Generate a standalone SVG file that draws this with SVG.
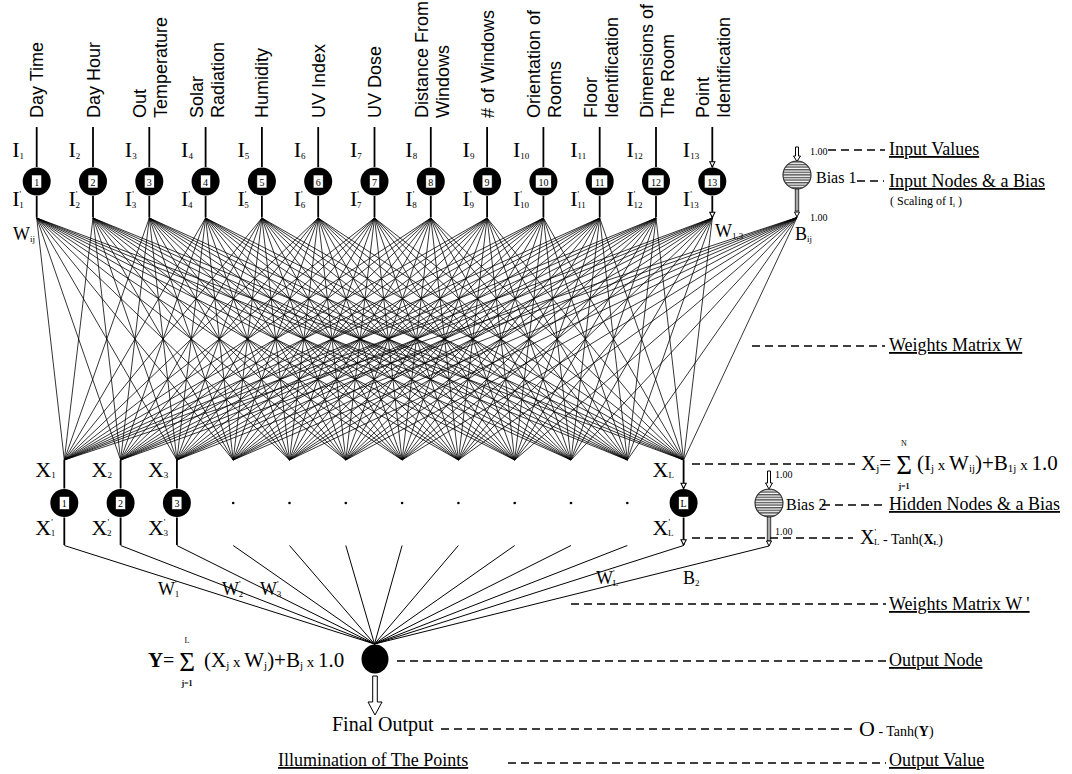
<svg xmlns="http://www.w3.org/2000/svg" width="1072" height="774" viewBox="0 0 1072 774">
<style>
.sans{font-family:"Liberation Sans",Arial,sans-serif;font-size:18px}
.serif{font-family:"Liberation Serif","Times New Roman",serif}
.lab{font-size:22px}
.xl{font-size:22px}
.w18{font-size:18px}
.sub{font-size:9px}
.num{font-family:"Liberation Serif","Times New Roman",serif;font-size:10px;text-anchor:middle}
.node{fill:#000}
.box{fill:#fff;stroke:#000;stroke-width:0.6}
.fan{fill:none;stroke:#000;stroke-width:0.8;stroke-linejoin:round}
.out{fill:none;stroke:#000;stroke-width:1;stroke-linejoin:round}
.conn{stroke:#000;stroke-width:1.8;fill:none}
.dash{stroke:#000;stroke-width:1.3;stroke-dasharray:8 5;fill:none}
.ul{text-decoration:underline}
.bias{fill:url(#stripe);stroke:#333;stroke-width:1.2}
.hol{fill:#fff;stroke:#000;stroke-width:1}
</style>
<defs>
<marker id="ah" viewBox="0 0 8 8" refX="7" refY="4" markerWidth="7" markerHeight="7" orient="auto" markerUnits="userSpaceOnUse">
<path d="M1,1 L7,4 L1,7 z" fill="#fff" stroke="#000" stroke-width="1.2"/>
</marker>
<pattern id="stripe" width="4" height="2.6" patternUnits="userSpaceOnUse">
<rect width="4" height="2.6" fill="#fff"/><rect width="4" height="1.4" fill="#555"/>
</pattern>
</defs>
<rect width="1072" height="774" fill="#fff"/>

<g id="connectors">
<path class="fan" d="M64.3 460L36.7 218 120.6 460M176.9 460L36.7 218 233.2 460M289.5 460L36.7 218 345.8 460M402.1 460L36.7 218 458.4 460M514.7 460L36.7 218 571 460M627.3 460L36.7 218 683.6 460"/>
<path class="fan" d="M64.3 460L93 218 120.6 460M176.9 460L93 218 233.2 460M289.5 460L93 218 345.8 460M402.1 460L93 218 458.4 460M514.7 460L93 218 571 460M627.3 460L93 218 683.6 460"/>
<path class="fan" d="M64.3 460L149.3 218 120.6 460M176.9 460L149.3 218 233.2 460M289.5 460L149.3 218 345.8 460M402.1 460L149.3 218 458.4 460M514.7 460L149.3 218 571 460M627.3 460L149.3 218 683.6 460"/>
<path class="fan" d="M64.3 460L205.6 218 120.6 460M176.9 460L205.6 218 233.2 460M289.5 460L205.6 218 345.8 460M402.1 460L205.6 218 458.4 460M514.7 460L205.6 218 571 460M627.3 460L205.6 218 683.6 460"/>
<path class="fan" d="M64.3 460L261.9 218 120.6 460M176.9 460L261.9 218 233.2 460M289.5 460L261.9 218 345.8 460M402.1 460L261.9 218 458.4 460M514.7 460L261.9 218 571 460M627.3 460L261.9 218 683.6 460"/>
<path class="fan" d="M64.3 460L318.2 218 120.6 460M176.9 460L318.2 218 233.2 460M289.5 460L318.2 218 345.8 460M402.1 460L318.2 218 458.4 460M514.7 460L318.2 218 571 460M627.3 460L318.2 218 683.6 460"/>
<path class="fan" d="M64.3 460L374.5 218 120.6 460M176.9 460L374.5 218 233.2 460M289.5 460L374.5 218 345.8 460M402.1 460L374.5 218 458.4 460M514.7 460L374.5 218 571 460M627.3 460L374.5 218 683.6 460"/>
<path class="fan" d="M64.3 460L430.8 218 120.6 460M176.9 460L430.8 218 233.2 460M289.5 460L430.8 218 345.8 460M402.1 460L430.8 218 458.4 460M514.7 460L430.8 218 571 460M627.3 460L430.8 218 683.6 460"/>
<path class="fan" d="M64.3 460L487.1 218 120.6 460M176.9 460L487.1 218 233.2 460M289.5 460L487.1 218 345.8 460M402.1 460L487.1 218 458.4 460M514.7 460L487.1 218 571 460M627.3 460L487.1 218 683.6 460"/>
<path class="fan" d="M64.3 460L543.4 218 120.6 460M176.9 460L543.4 218 233.2 460M289.5 460L543.4 218 345.8 460M402.1 460L543.4 218 458.4 460M514.7 460L543.4 218 571 460M627.3 460L543.4 218 683.6 460"/>
<path class="fan" d="M64.3 460L599.7 218 120.6 460M176.9 460L599.7 218 233.2 460M289.5 460L599.7 218 345.8 460M402.1 460L599.7 218 458.4 460M514.7 460L599.7 218 571 460M627.3 460L599.7 218 683.6 460"/>
<path class="fan" d="M64.3 460L656 218 120.6 460M176.9 460L656 218 233.2 460M289.5 460L656 218 345.8 460M402.1 460L656 218 458.4 460M514.7 460L656 218 571 460M627.3 460L656 218 683.6 460"/>
<path class="fan" d="M64.3 460L712.3 218 120.6 460M176.9 460L712.3 218 233.2 460M289.5 460L712.3 218 345.8 460M402.1 460L712.3 218 458.4 460M514.7 460L712.3 218 571 460M627.3 460L712.3 218 683.6 460"/>
<path class="fan" d="M64.3 460L797 217.5 120.6 460M176.9 460L797 217.5 233.2 460M289.5 460L797 217.5 345.8 460M402.1 460L797 217.5 458.4 460M514.7 460L797 217.5 571 460M627.3 460L797 217.5 683.6 460"/>
<path class="out" d="M64.3 545.5L374.5 644 120.6 545.5M176.9 545.5L374.5 644 233.2 545.5M289.5 545.5L374.5 644 345.8 545.5M402.1 545.5L374.5 644 458.4 545.5M514.7 545.5L374.5 644 571 545.5M627.3 545.5L374.5 644 683.6 545.5M769 546L374.5 644"/>
<g class="conn" marker-end="url(#ah)">
<path d="M36.7 127V167M93 127V167M149.3 127V167M205.6 127V167M261.9 127V167M318.2 127V167M374.5 127V167M430.8 127V167M487.1 127V167M543.4 127V167M599.7 127V167M656 127V167M712.3 127V167"/>
<path d="M36.7 196V217.5M93 196V217.5M149.3 196V217.5M205.6 196V217.5M261.9 196V217.5M318.2 196V217.5M374.5 196V217.5M430.8 196V217.5M487.1 196V217.5M543.4 196V217.5M599.7 196V217.5M656 196V217.5M712.3 196V217.5"/>
<path d="M64.3 460V488.5M120.6 460V488.5M176.9 460V488.5M683.6 460V488.5"/>
<path d="M64.3 517.5V545M120.6 517.5V545M176.9 517.5V545M683.6 517.5V545"/>
</g>
</g>

<g id="input-nodes">
<g id="in1"><circle class="node" cx="36.7" cy="181.5" r="14"/><rect class="box" x="31.7" y="175" width="10" height="13"/><text class="num" x="36.7" y="185.5">1</text>
<text class="sans" transform="translate(43.2,118) rotate(-90)">Day Time</text>
<text class="serif lab" x="12.2" y="157">I<tspan class="sub" dy="2">1</tspan></text>
<text class="serif lab" x="12.2" y="206">I<tspan class="sub" dy="-9">'</tspan><tspan class="sub" dx="-2" dy="11">1</tspan></text></g>
<g id="in2"><circle class="node" cx="93" cy="181.5" r="14"/><rect class="box" x="88" y="175" width="10" height="13"/><text class="num" x="93" y="185.5">2</text>
<text class="sans" transform="translate(99.5,118) rotate(-90)">Day Hour</text>
<text class="serif lab" x="68.5" y="157">I<tspan class="sub" dy="2">2</tspan></text>
<text class="serif lab" x="68.5" y="206">I<tspan class="sub" dy="-9">'</tspan><tspan class="sub" dx="-2" dy="11">2</tspan></text></g>
<g id="in3"><circle class="node" cx="149.3" cy="181.5" r="14"/><rect class="box" x="144.3" y="175" width="10" height="13"/><text class="num" x="149.3" y="185.5">3</text>
<text class="sans" transform="translate(146.3,118) rotate(-90)">Out</text>
<text class="sans" transform="translate(167.3,118) rotate(-90)">Temperature</text>
<text class="serif lab" x="124.8" y="157">I<tspan class="sub" dy="2">3</tspan></text>
<text class="serif lab" x="124.8" y="206">I<tspan class="sub" dy="-9">'</tspan><tspan class="sub" dx="-2" dy="11">3</tspan></text></g>
<g id="in4"><circle class="node" cx="205.6" cy="181.5" r="14"/><rect class="box" x="200.6" y="175" width="10" height="13"/><text class="num" x="205.6" y="185.5">4</text>
<text class="sans" transform="translate(202.6,118) rotate(-90)">Solar</text>
<text class="sans" transform="translate(223.6,118) rotate(-90)">Radiation</text>
<text class="serif lab" x="181.1" y="157">I<tspan class="sub" dy="2">4</tspan></text>
<text class="serif lab" x="181.1" y="206">I<tspan class="sub" dy="-9">'</tspan><tspan class="sub" dx="-2" dy="11">4</tspan></text></g>
<g id="in5"><circle class="node" cx="261.9" cy="181.5" r="14"/><rect class="box" x="256.9" y="175" width="10" height="13"/><text class="num" x="261.9" y="185.5">5</text>
<text class="sans" transform="translate(268.4,118) rotate(-90)">Humidity</text>
<text class="serif lab" x="237.4" y="157">I<tspan class="sub" dy="2">5</tspan></text>
<text class="serif lab" x="237.4" y="206">I<tspan class="sub" dy="-9">'</tspan><tspan class="sub" dx="-2" dy="11">5</tspan></text></g>
<g id="in6"><circle class="node" cx="318.2" cy="181.5" r="14"/><rect class="box" x="313.2" y="175" width="10" height="13"/><text class="num" x="318.2" y="185.5">6</text>
<text class="sans" transform="translate(324.7,118) rotate(-90)">UV Index</text>
<text class="serif lab" x="293.7" y="157">I<tspan class="sub" dy="2">6</tspan></text>
<text class="serif lab" x="293.7" y="206">I<tspan class="sub" dy="-9">'</tspan><tspan class="sub" dx="-2" dy="11">6</tspan></text></g>
<g id="in7"><circle class="node" cx="374.5" cy="181.5" r="14"/><rect class="box" x="369.5" y="175" width="10" height="13"/><text class="num" x="374.5" y="185.5">7</text>
<text class="sans" transform="translate(381,118) rotate(-90)">UV Dose</text>
<text class="serif lab" x="350" y="157">I<tspan class="sub" dy="2">7</tspan></text>
<text class="serif lab" x="350" y="206">I<tspan class="sub" dy="-9">'</tspan><tspan class="sub" dx="-2" dy="11">7</tspan></text></g>
<g id="in8"><circle class="node" cx="430.8" cy="181.5" r="14"/><rect class="box" x="425.8" y="175" width="10" height="13"/><text class="num" x="430.8" y="185.5">8</text>
<text class="sans" transform="translate(427.8,118) rotate(-90)">Distance From</text>
<text class="sans" transform="translate(448.8,118) rotate(-90)">Windows</text>
<text class="serif lab" x="405.3" y="157">I<tspan class="sub" dy="2">8</tspan></text>
<text class="serif lab" x="405.3" y="206">I<tspan class="sub" dy="-9">'</tspan><tspan class="sub" dx="-2" dy="11">8</tspan></text></g>
<g id="in9"><circle class="node" cx="487.1" cy="181.5" r="14"/><rect class="box" x="482.1" y="175" width="10" height="13"/><text class="num" x="487.1" y="185.5">9</text>
<text class="sans" transform="translate(493.6,118) rotate(-90)"># of Windows</text>
<text class="serif lab" x="462.6" y="157">I<tspan class="sub" dy="2">9</tspan></text>
<text class="serif lab" x="462.6" y="206">I<tspan class="sub" dy="-9">'</tspan><tspan class="sub" dx="-2" dy="11">9</tspan></text></g>
<g id="in10"><circle class="node" cx="543.4" cy="181.5" r="14"/><rect class="box" x="535.4" y="175" width="16" height="13"/><text class="num" x="543.4" y="185.5">10</text>
<text class="sans" transform="translate(540.4,118) rotate(-90)">Orientation of</text>
<text class="sans" transform="translate(561.4,118) rotate(-90)">Rooms</text>
<text class="serif lab" x="513" y="157">I<tspan class="sub" dy="2">10</tspan></text>
<text class="serif lab" x="513" y="206">I<tspan class="sub" dy="-9">'</tspan><tspan class="sub" dx="-2" dy="11">10</tspan></text></g>
<g id="in11"><circle class="node" cx="599.7" cy="181.5" r="14"/><rect class="box" x="591.7" y="175" width="16" height="13"/><text class="num" x="599.7" y="185.5">11</text>
<text class="sans" transform="translate(596.7,118) rotate(-90)">Floor</text>
<text class="sans" transform="translate(617.7,118) rotate(-90)">Identification</text>
<text class="serif lab" x="570.2" y="157">I<tspan class="sub" dy="2">11</tspan></text>
<text class="serif lab" x="570.2" y="206">I<tspan class="sub" dy="-9">'</tspan><tspan class="sub" dx="-2" dy="11">11</tspan></text></g>
<g id="in12"><circle class="node" cx="656" cy="181.5" r="14"/><rect class="box" x="648" y="175" width="16" height="13"/><text class="num" x="656" y="185.5">12</text>
<text class="sans" transform="translate(653,118) rotate(-90)">Dimensions of</text>
<text class="sans" transform="translate(674,118) rotate(-90)">The Room</text>
<text class="serif lab" x="626.5" y="157">I<tspan class="sub" dy="2">12</tspan></text>
<text class="serif lab" x="626.5" y="206">I<tspan class="sub" dy="-9">'</tspan><tspan class="sub" dx="-2" dy="11">12</tspan></text></g>
<g id="in13"><circle class="node" cx="712.3" cy="181.5" r="14"/><rect class="box" x="704.3" y="175" width="16" height="13"/><text class="num" x="712.3" y="185.5">13</text>
<text class="sans" transform="translate(709.3,118) rotate(-90)">Point</text>
<text class="sans" transform="translate(730.3,118) rotate(-90)">Identification</text>
<text class="serif lab" x="682.8" y="157">I<tspan class="sub" dy="2">13</tspan></text>
<text class="serif lab" x="682.8" y="206">I<tspan class="sub" dy="-9">'</tspan><tspan class="sub" dx="-2" dy="11">13</tspan></text></g>
</g>

<g id="bias1">
<polygon class="hol" points="795.5,147 798.5,147 798.5,156 800.5,156 797,161.5 793.5,156 795.5,156"/>
<circle class="bias" cx="797" cy="175" r="14"/>
<rect x="795.2" y="189" width="3.6" height="22" fill="#aaa" stroke="#000" stroke-width="0.7"/>
<path d="M794.5 212L799.5 212L797 217z" fill="#fff" stroke="#000" stroke-width="1"/>
<text class="serif" x="810" y="155" font-size="10">1.00</text>
<text class="serif" x="816" y="183" font-size="16">Bias 1</text>
<text class="serif" x="810" y="221" font-size="10">1.00</text>
</g>

<g id="weight-labels" class="serif w18">
<text x="13" y="240">W<tspan class="sub" dy="2">ij</tspan></text>
<text x="715" y="237">W<tspan class="sub" dy="2">1,3</tspan></text>
<text x="795" y="240">B<tspan class="sub" dy="2">ij</tspan></text>
<text x="158" y="595">W<tspan class="sub" dy="-8">'</tspan><tspan class="sub" dx="-2" dy="10">1</tspan></text>
<text x="222" y="595">W<tspan class="sub" dy="-8">'</tspan><tspan class="sub" dx="-2" dy="10">2</tspan></text>
<text x="260" y="595">W<tspan class="sub" dy="-8">'</tspan><tspan class="sub" dx="-2" dy="10">3</tspan></text>
<text x="596" y="584">W<tspan class="sub" dy="-8">'</tspan><tspan class="sub" dx="-2" dy="10">L</tspan></text>
<text x="683" y="584">B<tspan class="sub" dy="2">2</tspan></text>
</g>

<g id="hidden-nodes">
<g id="h1"><circle class="node" cx="64.3" cy="503" r="14"/><rect class="box" x="59.3" y="496.5" width="10" height="13"/><text class="num" x="64.3" y="507">1</text>
<text class="serif xl" x="35.3" y="477">X<tspan class="sub" dy="1">1</tspan></text>
<text class="serif xl" x="35.3" y="535">X<tspan class="sub" dy="-10">'</tspan><tspan class="sub" dx="-2" dy="11">1</tspan></text></g>
<g id="h2"><circle class="node" cx="120.6" cy="503" r="14"/><rect class="box" x="115.6" y="496.5" width="10" height="13"/><text class="num" x="120.6" y="507">2</text>
<text class="serif xl" x="91.6" y="477">X<tspan class="sub" dy="1">2</tspan></text>
<text class="serif xl" x="91.6" y="535">X<tspan class="sub" dy="-10">'</tspan><tspan class="sub" dx="-2" dy="11">2</tspan></text></g>
<g id="h3"><circle class="node" cx="176.9" cy="503" r="14"/><rect class="box" x="171.9" y="496.5" width="10" height="13"/><text class="num" x="176.9" y="507">3</text>
<text class="serif xl" x="147.9" y="477">X<tspan class="sub" dy="1">3</tspan></text>
<text class="serif xl" x="147.9" y="535">X<tspan class="sub" dy="-10">'</tspan><tspan class="sub" dx="-2" dy="11">3</tspan></text></g>
<g id="hL"><circle class="node" cx="683.6" cy="503" r="14"/><rect class="box" x="678.6" y="496.5" width="10" height="13"/><text class="num" x="683.6" y="507">L</text>
<text class="serif xl" x="652.6" y="477">X<tspan class="sub" dy="1">L</tspan></text>
<text class="serif xl" x="652.6" y="535">X<tspan class="sub" dy="-10">'</tspan><tspan class="sub" dx="-2" dy="11">L</tspan></text></g>
<g id="dots" fill="#000">
<circle cx="233.2" cy="503" r="1.3"/><circle cx="289.5" cy="503" r="1.3"/><circle cx="345.8" cy="503" r="1.3"/><circle cx="402.1" cy="503" r="1.3"/><circle cx="458.4" cy="503" r="1.3"/><circle cx="514.7" cy="503" r="1.3"/><circle cx="571" cy="503" r="1.3"/><circle cx="627.3" cy="503" r="1.3"/>
</g>
</g>

<g id="bias2">
<polygon class="hol" points="767.5,471 770.5,471 770.5,483 772.5,483 769,489 765.5,483 767.5,483"/>
<circle class="bias" cx="769" cy="503" r="14"/>
<rect x="767.2" y="517" width="3.6" height="24" fill="#aaa" stroke="#000" stroke-width="0.7"/>
<path d="M766.5 541L771.5 541L769 546z" fill="#fff" stroke="#000" stroke-width="1"/>
<text class="serif" x="775" y="478" font-size="10">1.00</text>
<text class="serif" x="786" y="510" font-size="16">Bias 2</text>
<text class="serif" x="775" y="535" font-size="10">1.00</text>
</g>

<g id="output-node">
<ellipse cx="375" cy="659" rx="13.5" ry="14.5" fill="#000"/>
<polygon class="hol" points="372.7,676 377.3,676 377.3,702 382,702 375,715 368,702 372.7,702"/>
<text class="serif" x="148" y="667" font-size="21" font-weight="bold">Y</text>
<text class="serif" x="163" y="667" font-size="20">=</text>
<text class="serif" x="187" y="671" font-size="27" text-anchor="middle">Σ</text>
<text class="serif" x="187" y="643" font-size="8" text-anchor="middle">L</text>
<text class="serif" x="187" y="686" font-size="8" text-anchor="middle" font-weight="bold">j=1</text>
<text class="serif" x="204" y="667" font-size="21">(X<tspan font-size="11" dy="2">j</tspan><tspan font-size="15" dy="-2"> x </tspan>W<tspan font-size="11" dy="2">j</tspan><tspan dy="-2">)+B</tspan><tspan font-size="11" dy="2">j</tspan><tspan font-size="15" dy="-2"> x </tspan>1.0</text>
<text class="serif" x="332" y="731" font-size="20">Final Output</text>
</g>

<g id="annotations">
<path class="dash" d="M828 150H885M857 181H884M752 346H885M692 464H855M822 505H886M692 538H853M571 604H886M397 661H886M441 729H853M508 763H886"/>
<text class="serif w18 ul" x="889" y="155">Input Values</text>
<text class="serif w18 ul" x="889" y="187">Input Nodes &amp; a Bias</text>
<text class="serif" x="890" y="205" font-size="12">( Scaling of I<tspan font-size="7" dy="2">i</tspan><tspan dy="-2"> )</tspan></text>
<text class="serif w18 ul" x="889" y="351">Weights Matrix W</text>
<text class="serif" x="861" y="470" font-size="21">X<tspan font-size="11" dy="2">j</tspan><tspan dy="-2">=</tspan></text>
<text class="serif" x="904" y="474" font-size="27" text-anchor="middle">Σ</text>
<text class="serif" x="904" y="446" font-size="8" text-anchor="middle">N</text>
<text class="serif" x="904" y="489" font-size="8" text-anchor="middle" font-weight="bold">j=1</text>
<text class="serif" x="917" y="470" font-size="21">(I<tspan font-size="11" dy="2">j</tspan><tspan font-size="15" dy="-2"> x </tspan>W<tspan font-size="11" dy="2">ij</tspan><tspan dy="-2">)+B</tspan><tspan font-size="11" dy="2">1j</tspan><tspan font-size="15" dy="-2"> x </tspan>1.0</text>
<text class="serif w18 ul" x="889" y="510">Hidden Nodes &amp; a Bias</text>
<text class="serif" x="860" y="544" font-size="20">X<tspan font-size="9" dy="-9">'</tspan><tspan font-size="9" dx="-2" dy="10">L</tspan><tspan font-size="14" dy="-1"> - Tanh(</tspan><tspan font-size="14" font-weight="bold">X</tspan><tspan font-size="7" font-weight="bold" dy="1">L</tspan><tspan font-size="14" dy="-1">)</tspan></text>
<text class="serif w18 ul" x="889" y="610">Weights Matrix W '</text>
<text class="serif w18 ul" x="889" y="666">Output Node</text>
<text class="serif" x="859" y="736" font-size="22">O<tspan font-size="14"> - Tanh(</tspan><tspan font-size="14" font-weight="bold">Y</tspan><tspan font-size="14">)</tspan></text>
<text class="serif w18 ul" x="278" y="766">Illumination of The Points</text>
<text class="serif w18 ul" x="889" y="766">Output Value</text>
</g>
</svg>
